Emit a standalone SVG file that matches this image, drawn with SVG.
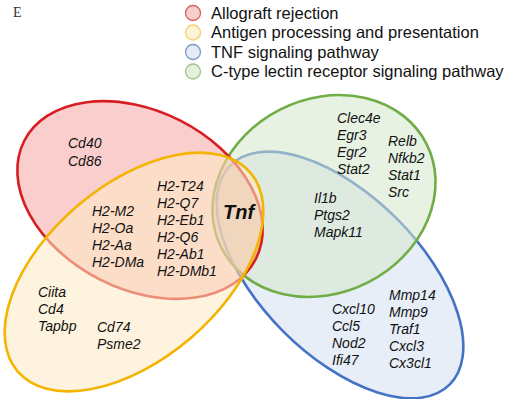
<svg xmlns="http://www.w3.org/2000/svg" width="508" height="399" viewBox="0 0 508 399">
<style>
.g{font-family:"Liberation Sans",Arial,sans-serif;font-style:italic;font-size:14px;fill:#111}
.lg{font-family:"Liberation Sans",Arial,sans-serif;font-size:16.5px;fill:#111}
.set{stroke-width:2.6}
</style>
<rect width="508" height="399" fill="#fff"/>
<text x="13" y="17" font-family="Liberation Serif,'Times New Roman',serif" font-size="14" fill="#333">E</text>
<g id="legend">
<circle cx="193" cy="13" r="7.5" fill="#f6cfcc" stroke="#d9605a" stroke-width="1.3"/>
<text class="lg" x="211" y="18.5">Allograft rejection</text>
<circle cx="193" cy="32.5" r="7.5" fill="#fdf3d8" stroke="#f2d06b" stroke-width="1.3"/>
<text class="lg" x="211" y="38">Antigen processing and presentation</text>
<circle cx="193" cy="52" r="7.5" fill="#e6ecf7" stroke="#7d98cc" stroke-width="1.3"/>
<text class="lg" x="211" y="57.5">TNF signaling pathway</text>
<circle cx="193" cy="71.5" r="7.5" fill="#e4f0dc" stroke="#9fc68a" stroke-width="1.3"/>
<text class="lg" x="211" y="77">C-type lectin receptor signaling pathway</text>
</g>
<g id="tnf-pathway" class="set" transform="translate(340,275) rotate(45)">
<ellipse rx="155" ry="80" fill="#d2def2" fill-opacity="0.5" stroke="#4472c4"/>
</g>
<g id="ctype-lectin" class="set" transform="translate(324,196) rotate(-27)">
<ellipse rx="115" ry="97" fill="#d5e8cc" fill-opacity="0.55" stroke="#70ad47"/>
</g>
<g id="allograft" class="set" transform="translate(140,200) rotate(27)">
<ellipse rx="130" ry="89" fill="#eb3c32" fill-opacity="0.25" stroke="#d81e22"/>
</g>
<g id="antigen" class="set" transform="translate(134,272) rotate(-40.5)">
<ellipse rx="153" ry="87" fill="#fde9c3" fill-opacity="0.55" stroke="#f4b400"/>
</g>
<g id="connectors"></g>
<g id="allograft-genes">
<text class="g" x="68" y="148">Cd40</text>
<text class="g" x="68" y="166">Cd86</text>
</g>
<g id="allograft-antigen-genes">
<text class="g" x="92" y="216">H2-M2</text>
<text class="g" x="92" y="233">H2-Oa</text>
<text class="g" x="92" y="250">H2-Aa</text>
<text class="g" x="92" y="267">H2-DMa</text>
<text class="g" x="157" y="191">H2-T24</text>
<text class="g" x="157" y="208">H2-Q7</text>
<text class="g" x="157" y="225">H2-Eb1</text>
<text class="g" x="157" y="242">H2-Q6</text>
<text class="g" x="157" y="259">H2-Ab1</text>
<text class="g" x="157" y="276">H2-DMb1</text>
</g>
<g id="all-genes">
<text x="223" y="219" font-family="Liberation Sans,Arial,sans-serif" font-style="italic" font-weight="bold" font-size="20" fill="#111">Tnf</text>
</g>
<g id="ctype-genes">
<text class="g" x="337" y="123">Clec4e</text>
<text class="g" x="337" y="140">Egr3</text>
<text class="g" x="337" y="157">Egr2</text>
<text class="g" x="337" y="174">Stat2</text>
</g>
<g id="ctype-tnf-genes">
<text class="g" x="388" y="146">Relb</text>
<text class="g" x="388" y="163">Nfkb2</text>
<text class="g" x="388" y="180">Stat1</text>
<text class="g" x="388" y="197">Src</text>
<text class="g" x="314" y="203">Il1b</text>
<text class="g" x="314" y="220">Ptgs2</text>
<text class="g" x="314" y="237">Mapk11</text>
</g>
<g id="antigen-genes">
<text class="g" x="38" y="297">Ciita</text>
<text class="g" x="38" y="314">Cd4</text>
<text class="g" x="38" y="331">Tapbp</text>
<text class="g" x="97" y="332">Cd74</text>
<text class="g" x="97" y="349">Psme2</text>
</g>
<g id="tnf-genes">
<text class="g" x="332" y="314">Cxcl10</text>
<text class="g" x="332" y="331">Ccl5</text>
<text class="g" x="332" y="348">Nod2</text>
<text class="g" x="332" y="365">Ifi47</text>
<text class="g" x="389" y="300">Mmp14</text>
<text class="g" x="389" y="317">Mmp9</text>
<text class="g" x="389" y="334">Traf1</text>
<text class="g" x="389" y="351">Cxcl3</text>
<text class="g" x="389" y="368">Cx3cl1</text>
</g>
</svg>
